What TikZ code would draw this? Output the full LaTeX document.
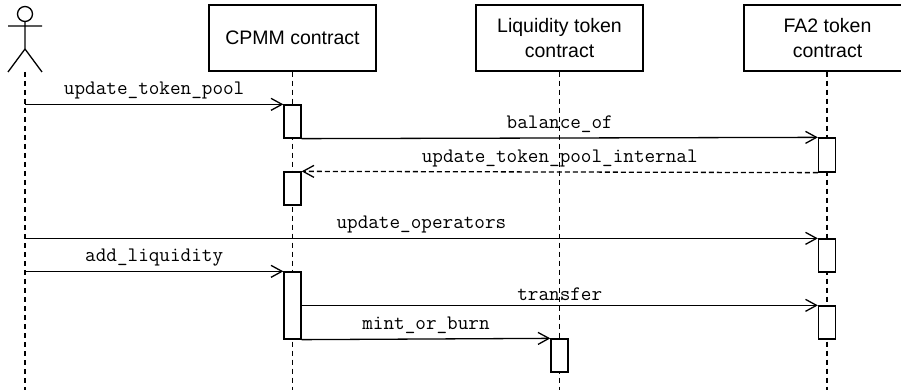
\documentclass[tikz,border=0pt]{standalone}
\usepackage{fontspec}
\setmainfont{Liberation Sans}
\usetikzlibrary{arrows.meta}
\begin{document}
\begin{tikzpicture}[x=1pt,y=-1pt,line width=1.3pt,
    obj/.style={rectangle,draw=black,fill=white,minimum width=167pt,minimum height=66pt,align=center,font=\fontsize{19.5}{25}\selectfont},
    act/.style={rectangle,draw=black,fill=white,minimum width=17pt,inner sep=0pt},
    life/.style={dash pattern=on 5pt off 4pt},
    msg/.style={-{Straight Barb[length=11pt,width=12pt]}},
    ret/.style={msg,dash pattern=on 5pt off 3pt},
    lbl/.style={above=1pt,font=\fontsize{20.6}{20.6}\selectfont\ttfamily},
    ]
    \clip (0,0) rectangle (901,390);
    \draw (25,14) circle (7.5);
    \draw (25,21.5) -- (25,49) (8,26) -- (42,26) (8,72) -- (25,49) -- (42,72);
    \coordinate (usr) at (25,72);
    \node[obj] (cpmm) at (292.5,38) {CPMM contract};
    \node[obj] (liq) at (559.5,38) {Liquidity token\\contract};
    \node[obj] (fa2) at (827.5,38) {FA2 token\\contract};
    \draw[life] (usr) -- ++(0,318);
    \foreach \n in {cpmm,liq} \draw[life] (\n.south) -- ++(0,319);
    \draw[life] (fa2.south) ++(-0.5,0) -- ++(0,319);
    \node[act,minimum height=33pt] (c1) at (292.5,121.5) {};
    \node[act,minimum height=34pt] (f1) at (827,155) {};
    \node[act,minimum height=33pt] (c2) at (292.5,188.5) {};
    \node[act,minimum height=33pt] (f2) at (827,255.5) {};
    \node[act,minimum height=67pt] (c3) at (292.5,305.5) {};
    \node[act,minimum height=33pt] (f3) at (827,322.5) {};
    \node[act,minimum height=33pt] (l1) at (559.5,355.5) {};
    \draw[msg] (usr |- c1.north west) -- (c1.north west) node[lbl,midway] {update\_token\_pool};
    \draw[msg] (c1.south east) -- (f1.north west) node[lbl,midway] {balance\_of};
    \draw[ret] (f1.south west) -- (c2.north east) node[lbl,midway] {update\_token\_pool\_internal};
    \draw[msg] (usr |- f2.north west) -- (f2.north west) node[lbl,midway] {update\_operators};
    \draw[msg] (usr |- c3.north west) -- (c3.north west) node[lbl,midway] {add\_liquidity};
    \draw[msg] (c3.east |- f3.north west) -- (f3.north west) node[lbl,midway] {transfer};
    \draw[msg] (c3.south east) -- (l1.north west) node[lbl,midway] {mint\_or\_burn};
\end{tikzpicture}
\end{document}
